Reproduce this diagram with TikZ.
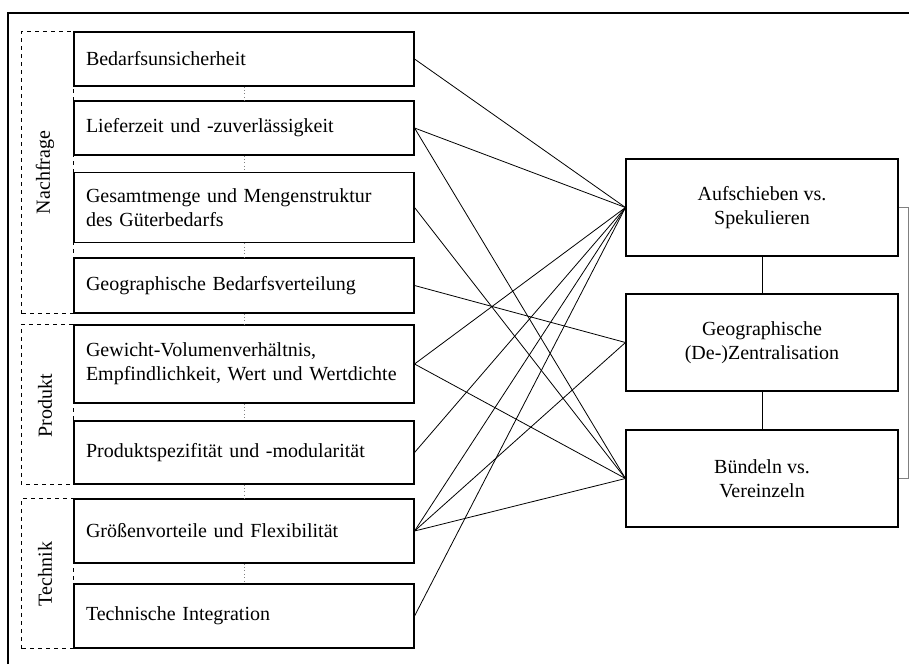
\documentclass[tikz,border=0pt]{standalone}
\usepackage{fontspec}
\setmainfont{Liberation Serif}
\tikzset{
  lbox/.style={draw, line width=0.8pt, text width=237pt, inner xsep=9pt,
    align=left, minimum height=#1},
  rbox/.style={draw, line width=0.8pt, minimum width=204pt,
    minimum height=72.75pt, align=center},
  grp/.style={dashed, line width=0.8pt},
  gtext/.style={rotate=90},
  verb/.style={line width=0.6pt},
  trenn/.style={dotted, gray, line width=0.6pt}
}
\begin{document}
\begin{tikzpicture}[x=0.75pt, y=-0.75pt, font=\fontsize{15}{18}\selectfont]
    \useasboundingbox (0,0) rectangle (909,664);
    % Rahmen
    \draw[line width=1pt] (8,664) -- (8,13) -- (909,13);
    % Einflussfaktoren links
    \node[lbox=40.5pt]   (bed)  at (244,59)    {Bedarfsunsicherheit};
    \node[lbox=40.5pt]   (lief) at (244,128)   {Lieferzeit und -zuverlässigkeit};
    \node[lbox=52.5pt]   (ges)  at (244,207.5) {Gesamtmenge und Mengenstruktur\\des Güterbedarfs};
    \node[lbox=41.25pt]  (geo)  at (244,285.5) {Geographische Bedarfsverteilung};
    \node[lbox=58.5pt]   (gew)  at (244,364)   {Gewicht-Volumenverhältnis,\\Empfindlichkeit, Wert und Wertdichte};
    \node[lbox=47.25pt]  (spez) at (244,452.5) {Produktspezifität und -modularität};
    \node[lbox=48pt]     (groe) at (244,531)   {Größenvorteile und Flexibilität};
    \node[lbox=48pt]     (tech) at (244,616)   {Technische Integration};
    % Trennlinien
    \draw[trenn] (bed)  -- (lief);
    \draw[trenn] (lief) -- (ges);
    \draw[trenn] (ges)  -- (geo);
    \draw[trenn] (geo)  -- (gew);
    \draw[trenn] (gew)  -- (spez);
    \draw[trenn] (spez) -- (groe);
    \draw[trenn] (groe) -- (tech);
    % Gruppen
    \draw[grp] (geo.south west)  ++(-52,0) rectangle (bed.north west);
    \draw[grp] (spez.south west) ++(-52,0) rectangle (gew.north west);
    \draw[grp, line width=0.5pt] (tech.south west) ++(-52,0) rectangle (groe.north west);
    \node[gtext] (nach) at (45,172.5) {Nachfrage};
    \node[gtext] (prod) at (45,406)   {Produkt};
    \node[gtext] (tchn) at (45,574)   {Technik};
    % Gestaltungsprinzipien rechts
    \node[rbox] (aufs) at (762,207.5) {Aufschieben vs.\\Spekulieren};
    \node[rbox] (zent) at (762,342.5) {Geographische\\(De-)Zentralisation};
    \node[rbox] (buen) at (762,478.5) {Bündeln vs.\\Vereinzeln};
    \draw[verb] (aufs) -- (zent);
    \draw[verb] (zent) -- (buen);
    \draw[gray, line width=1pt] (aufs.east) -- ++(10,0) |- (buen.east);
    % Verbindungen
    \draw[verb] (bed.east)  -- (aufs.west);
    \draw[verb] (lief.east) -- (aufs.west);
    \draw[verb] (lief.east) -- (buen.west);
    \draw[verb] (ges.east)  -- (buen.west);
    \draw[verb] (geo.east)  -- (zent.west);
    \draw[verb] (gew.east)  -- (aufs.west);
    \draw[verb] (gew.east)  -- (buen.west);
    \draw[verb] (spez.east) -- (aufs.west);
    \draw[verb] (groe.east) -- (aufs.west);
    \draw[verb] (groe.east) -- (zent.west);
    \draw[verb] (groe.east) -- (buen.west);
    \draw[verb] (tech.east) -- (aufs.west);
\end{tikzpicture}
\end{document}
